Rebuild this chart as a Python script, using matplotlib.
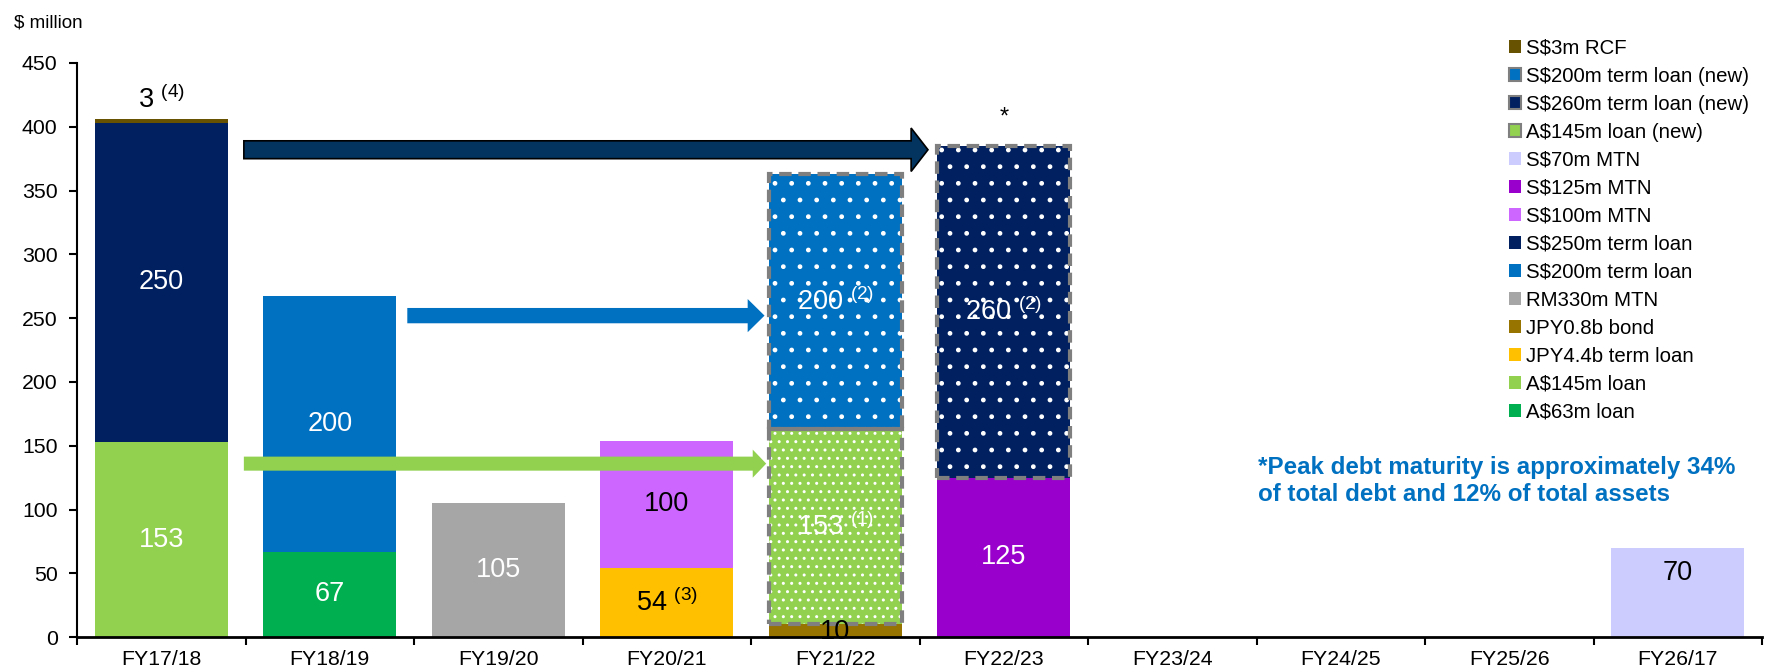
import numpy as np
import matplotlib
matplotlib.use("Agg")
import matplotlib.pyplot as plt
from matplotlib.patches import Patch, FancyArrow

plt.rcParams["font.family"] = ["Liberation Sans", "DejaVu Sans"]
plt.rcParams["mathtext.fontset"] = "custom"
plt.rcParams["mathtext.rm"] = "Liberation Sans"
plt.rcParams["mathtext.it"] = "Liberation Sans"
plt.rcParams["hatch.linewidth"] = 1.0

# ---------- data ($ million) ----------
years = ["FY17/18", "FY18/19", "FY19/20", "FY20/21", "FY21/22",
         "FY22/23", "FY23/24", "FY24/25", "FY25/26", "FY26/17"]

aud63_loan     = [0, 67, 0, 0, 0, 0, 0, 0, 0, 0]
aud145_loan    = [153, 0, 0, 0, 0, 0, 0, 0, 0, 0]
jpy44_term     = [0, 0, 0, 54, 0, 0, 0, 0, 0, 0]
jpy08_bond     = [0, 0, 0, 0, 10, 0, 0, 0, 0, 0]
rm330_mtn      = [0, 0, 105, 0, 0, 0, 0, 0, 0, 0]
sgd200_term    = [0, 200, 0, 0, 0, 0, 0, 0, 0, 0]
sgd250_term    = [250, 0, 0, 0, 0, 0, 0, 0, 0, 0]
sgd100_mtn     = [0, 0, 0, 100, 0, 0, 0, 0, 0, 0]
sgd125_mtn     = [0, 0, 0, 0, 0, 125, 0, 0, 0, 0]
sgd70_mtn      = [0, 0, 0, 0, 0, 0, 0, 0, 0, 70]
aud145_new     = [0, 0, 0, 0, 153, 0, 0, 0, 0, 0]
sgd260_new     = [0, 0, 0, 0, 0, 260, 0, 0, 0, 0]
sgd200_new     = [0, 0, 0, 0, 200, 0, 0, 0, 0, 0]
sgd3_rcf       = [3, 0, 0, 0, 0, 0, 0, 0, 0, 0]

# stacking order, bottom -> top: (label, values, colour, label colour, hatch)
series = [
    ("A$63m loan",              aud63_loan,  "#00b050", "white", None),
    ("A$145m loan",             aud145_loan, "#92d050", "white", None),
    ("JPY4.4b term loan",       jpy44_term,  "#ffc000", "black", None),
    ("JPY0.8b bond",            jpy08_bond,  "#977300", "black", None),
    ("RM330m MTN",              rm330_mtn,   "#a6a6a6", "white", None),
    ("S$200m term loan",        sgd200_term, "#0070c0", "white", None),
    ("S$250m term loan",        sgd250_term, "#002060", "white", None),
    ("S$100m MTN",              sgd100_mtn,  "#cc66ff", "black", None),
    ("S$125m MTN",              sgd125_mtn,  "#9900cc", "white", None),
    ("S$70m MTN",               sgd70_mtn,   "#ccccff", "black", None),
    ("A$145m loan (new)",       aud145_new,  "#92d050", "white", ".."),
    ("S$260m term loan (new)",  sgd260_new,  "#002060", "white", "."),
    ("S$200m term loan (new)",  sgd200_new,  "#0070c0", "white", "."),
    ("S$3m RCF",                sgd3_rcf,    "#665200", "black", None),
]

# footnote markers on some of the value labels
notes = {("S$3m RCF", 0): "4", ("JPY4.4b term loan", 3): "3",
         ("A$145m loan (new)", 4): "1", ("S$200m term loan (new)", 4): "2",
         ("S$260m term loan (new)", 5): "2"}

legend_order = ["S$3m RCF", "S$200m term loan (new)", "S$260m term loan (new)",
                "A$145m loan (new)", "S$70m MTN", "S$125m MTN", "S$100m MTN",
                "S$250m term loan", "S$200m term loan", "RM330m MTN",
                "JPY0.8b bond", "JPY4.4b term loan", "A$145m loan", "A$63m loan"]

# refinancing arrows: (from x, to x, y, shaft, head, head length, colour, edge)
arrows = [
    (0.49, 4.55, 382, 14, 34, 0.10, "#03335f", "black"),
    (1.46, 3.58, 252, 12, 26, 0.10, "#0070c0", "none"),
    (0.49, 3.59, 136, 11, 22, 0.08, "#92d050", "none"),
]

fig = plt.figure(figsize=(17.67, 6.70), dpi=100)
ax = fig.add_axes([0.0436, 0.049, 0.9536, 0.857])

x = np.arange(len(years))
width = 0.79
bottom = np.zeros(len(years))
handles = {}

for name, vals, col, tcol, hatch in series:
    vals = np.array(vals, dtype=float)
    if hatch:
        ax.bar(x, vals, width, bottom=bottom, color=col, edgecolor="white",
               linewidth=0, hatch=hatch, zorder=2)
        for i in np.nonzero(vals)[0]:
            ax.bar(x[i], vals[i], width, bottom=bottom[i], fill=False,
                   edgecolor="#7f7f7f", linewidth=3, linestyle=(0, (3, 1.6)),
                   zorder=4)
        handles[name] = Patch(facecolor=col, edgecolor="#7f7f7f", linewidth=1.5)
    else:
        ax.bar(x, vals, width, bottom=bottom, color=col, linewidth=0, zorder=2)
        handles[name] = Patch(facecolor=col, edgecolor="none")

    for i in np.nonzero(vals)[0]:
        v = vals[i]
        ypos = bottom[i] + v / 2
        if v < 6:
            ypos = bottom[i] + v + 15
        elif v < 20:
            ypos = bottom[i] + 4
        elif name == "S$70m MTN":
            ypos = 50
        txt = f"{v:.0f}"
        if (name, i) in notes:
            txt += r" $^{(" + notes[(name, i)] + ")}$"
        ax.text(x[i], ypos, txt, ha="center", va="center", color=tcol,
                fontsize=19.5, zorder=6)
    bottom += vals

# peak year marker
peak = int(np.argmax(bottom[1:]) + 1)
ax.text(x[peak], bottom[peak] + 22, "*", ha="center", va="center", fontsize=17)

for x0, x1, y, w, hw, hl, col, ec in arrows:
    ax.add_patch(FancyArrow(x0, y, x1 - x0, 0, width=w, head_width=hw,
                            head_length=hl, length_includes_head=True,
                            facecolor=col, edgecolor=ec, linewidth=1.2,
                            zorder=5))

ax.set_xlim(-0.5, len(years) - 0.5)
ax.set_ylim(0, 450)
ax.set_yticks(np.arange(0, 451, 50))
ax.set_xticks(x)
ax.set_xticklabels(years)
ax.set_xticks(np.arange(-0.5, len(years), 1), minor=True)
ax.tick_params(axis="x", which="major", length=0, pad=9, labelsize=15.3)
ax.tick_params(axis="x", which="minor", length=6, width=1.5, direction="out")
ax.tick_params(axis="y", length=6, width=1.5, direction="out", pad=8,
               labelsize=15.3)
for s in ["top", "right"]:
    ax.spines[s].set_visible(False)
ax.spines["left"].set_linewidth(1.5)
ax.spines["bottom"].set_linewidth(2)

fig.text(0.008, 0.965, "$ million", fontsize=13.6, va="center")
fig.text(0.712, 0.282, "*Peak debt maturity is approximately 34%\n"
         "of total debt and 12% of total assets", color="#0070c0",
         fontsize=17.4, fontweight="bold", va="center", linespacing=1.2)

fig.legend([handles[n] for n in legend_order], legend_order,
           loc="upper left", bbox_to_anchor=(0.854, 0.942), frameon=False,
           fontsize=14.7, handlelength=0.6, handleheight=0.6,
           handletextpad=0.25, labelspacing=0.44, borderaxespad=0,
           borderpad=0)

fig.savefig("out.png", dpi=100)
